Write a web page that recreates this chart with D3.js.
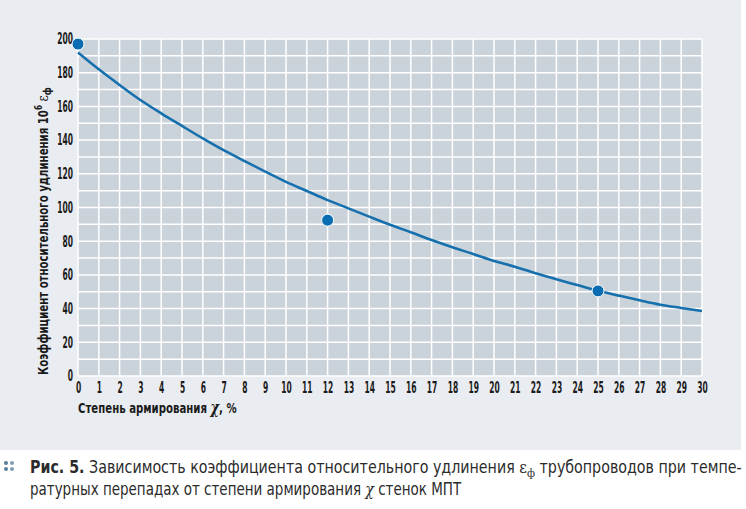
<!DOCTYPE html>
<html>
<head>
<meta charset="utf-8">
<script src="https://cdn.jsdelivr.net/npm/d3@7"></script>
<style>
  body { margin: 0; background: #fff; }
  svg { display: block; }
  .tick text { font-family: "DejaVu Sans Condensed", sans-serif; font-weight: bold; font-size: 15px; fill: #1a1a1a; }
</style>
</head>
<body>
<svg></svg>
<script>
// curve, one value per percent
let curveX = d3.range(0, 31)
let curveY = [192, 182, 172.7, 163.8, 155.9, 148.4, 141, 134, 127.6, 121.3, 115.2,
              109.8, 104.4, 99.5, 94.6, 89.8, 85.3, 80.7, 76.4, 72.4, 68.2,
              64.9, 61, 57.4, 54, 50.6, 47.7, 44.9, 42.3, 40.4, 38.6]
// measured points
let pointX = [0, 12, 25]
let pointY = [197, 92.5, 50.5]

let xTicks = d3.range(0, 31)
let yTicks = [0, 20, 40, 60, 80, 100, 120, 140, 160, 180, 200]
let yGrid = d3.range(0, 201, 10)

let width = 746
let height = 509
let plotL = 78, plotR = 702, plotT = 39, plotB = 376

let narrow = '"DejaVu Sans Condensed", sans-serif'

let svg = d3.select('svg').attr('width', width).attr('height', height)

let xScale = d3.scaleLinear().domain([0, 30]).range([plotL, plotR])
let yScale = d3.scaleLinear().domain([0, 200]).range([plotB, plotT])

// squeeze a text horizontally so it spans w pixels from x
let fitWidth = (sel, x, w) => {
    let bw = sel.node().getBBox().width
    let s = w / bw
    sel.attr('transform', 'translate(' + x + ',0) scale(' + s + ',1) translate(' + (-x) + ',0)')
}

// panel
svg.append('rect')
   .attr('x', 0).attr('y', 0)
   .attr('width', 741).attr('height', 450)
   .attr('fill', '#e9ecf0')

svg.append('rect')
   .attr('x', plotL).attr('y', plotT)
   .attr('width', plotR - plotL).attr('height', plotB - plotT)
   .attr('fill', '#cad2da')

// grid
svg.append('g').selectAll('line')
   .data(xTicks)
   .enter().append('line')
   .attr('x1', d => xScale(d)).attr('x2', d => xScale(d))
   .attr('y1', plotT).attr('y2', plotB)
   .attr('stroke', '#fff').attr('stroke-width', 1.5)

svg.append('g').selectAll('line')
   .data(yGrid)
   .enter().append('line')
   .attr('x1', plotL).attr('x2', plotR)
   .attr('y1', d => yScale(d)).attr('y2', d => yScale(d))
   .attr('stroke', '#fff').attr('stroke-width', 1.5)

// axes (labels only)
let xAxis = d3.axisBottom(xScale).tickValues(xTicks).tickSize(0).tickPadding(6)
let yAxis = d3.axisLeft(yScale).tickValues(yTicks).tickSize(0).tickPadding(0)

svg.append('g')
   .attr('transform', 'translate(0,' + plotB + ')')
   .call(xAxis)
   .call(g => g.select('.domain').remove())
   .call(g => g.selectAll('.tick text').attr('transform', 'scale(0.56,1)'))

svg.append('g')
   .attr('transform', 'translate(' + plotL + ',0)')
   .call(yAxis)
   .call(g => g.select('.domain').remove())
   .call(g => g.selectAll('.tick text').attr('x', 0).attr('transform', 'translate(-5,0) scale(0.56,1)'))

// curve
let line = d3.line()
   .x((d, i) => xScale(curveX[i]))
   .y(d => yScale(d))
   .curve(d3.curveMonotoneX)

svg.append('path')
   .datum(curveY)
   .attr('d', line)
   .attr('fill', 'none')
   .attr('stroke', '#1570ad')
   .attr('stroke-width', 2.6)

svg.append('g').selectAll('circle')
   .data(pointY)
   .enter().append('circle')
   .attr('cx', (d, i) => xScale(pointX[i]))
   .attr('cy', d => yScale(d))
   .attr('r', 6)
   .attr('fill', '#0a6cb1')
   .attr('stroke', '#fff')
   .attr('stroke-width', 1)

// axis titles
let xt = svg.append('text')
   .attr('x', plotL).attr('y', 413)
   .attr('font-family', narrow).attr('font-weight', 'bold').attr('font-size', 14)
   .attr('fill', '#1a1a1a')
xt.append('tspan').text('Степень армирования ')
xt.append('tspan').attr('font-family', 'DejaVu Serif').attr('font-style', 'italic').attr('font-size', 16).text('χ')
xt.append('tspan').text(', %')
fitWidth(xt, plotL, 159)

let yt = svg.append('text')
   .attr('x', 0).attr('y', 0)
   .attr('font-family', narrow).attr('font-weight', 'bold').attr('font-size', 14)
   .attr('fill', '#1a1a1a')
yt.append('tspan').text('Коэффициент относительного удлинения 10')
yt.append('tspan').attr('dy', -6).attr('font-size', 10).text('6')
yt.append('tspan').attr('dy', 6).text(' ')
yt.append('tspan').attr('font-family', 'DejaVu Serif').attr('font-weight', 'normal').attr('font-size', 15).text('ε')
yt.append('tspan').attr('dy', 3).attr('font-size', 11).text('ф')
let ytW = yt.node().getBBox().width
yt.attr('transform', 'translate(48,375) rotate(-90) scale(' + (288 / ytW) + ',1)')

// caption
let capColor = '#2b2b2b'
let dots = [[6, 463], [12, 463], [6, 469], [12, 469]]
svg.append('g').selectAll('circle')
   .data(dots)
   .enter().append('circle')
   .attr('cx', d => d[0]).attr('cy', d => d[1])
   .attr('r', 2)
   .attr('fill', (d, i) => i % 2 ? '#7f9cb2' : '#5a8099')

let c1 = svg.append('text')
   .attr('x', 30).attr('y', 473)
   .attr('font-family', narrow).attr('font-size', 17)
   .attr('fill', capColor)
c1.append('tspan').attr('font-weight', 'bold').text('Рис. 5.')
c1.append('tspan').text(' Зависимость коэффициента относительного удлинения ')
c1.append('tspan').attr('font-family', 'DejaVu Serif').attr('font-size', 16).text('ε')
c1.append('tspan').attr('font-family', 'DejaVu Serif').attr('font-size', 11).attr('dy', 4).text('ф')
c1.append('tspan').attr('dy', -4).text(' трубопроводов при темпе-')
fitWidth(c1, 30, 712)

let c2 = svg.append('text')
   .attr('x', 30).attr('y', 495)
   .attr('font-family', narrow).attr('font-size', 17)
   .attr('fill', capColor)
c2.append('tspan').text('ратурных перепадах от степени армирования ')
c2.append('tspan').attr('font-family', 'DejaVu Serif').attr('font-style', 'italic').attr('font-size', 16).text('χ')
c2.append('tspan').text(' стенок МПТ')
fitWidth(c2, 30, 432)
</script>
</body>
</html>
